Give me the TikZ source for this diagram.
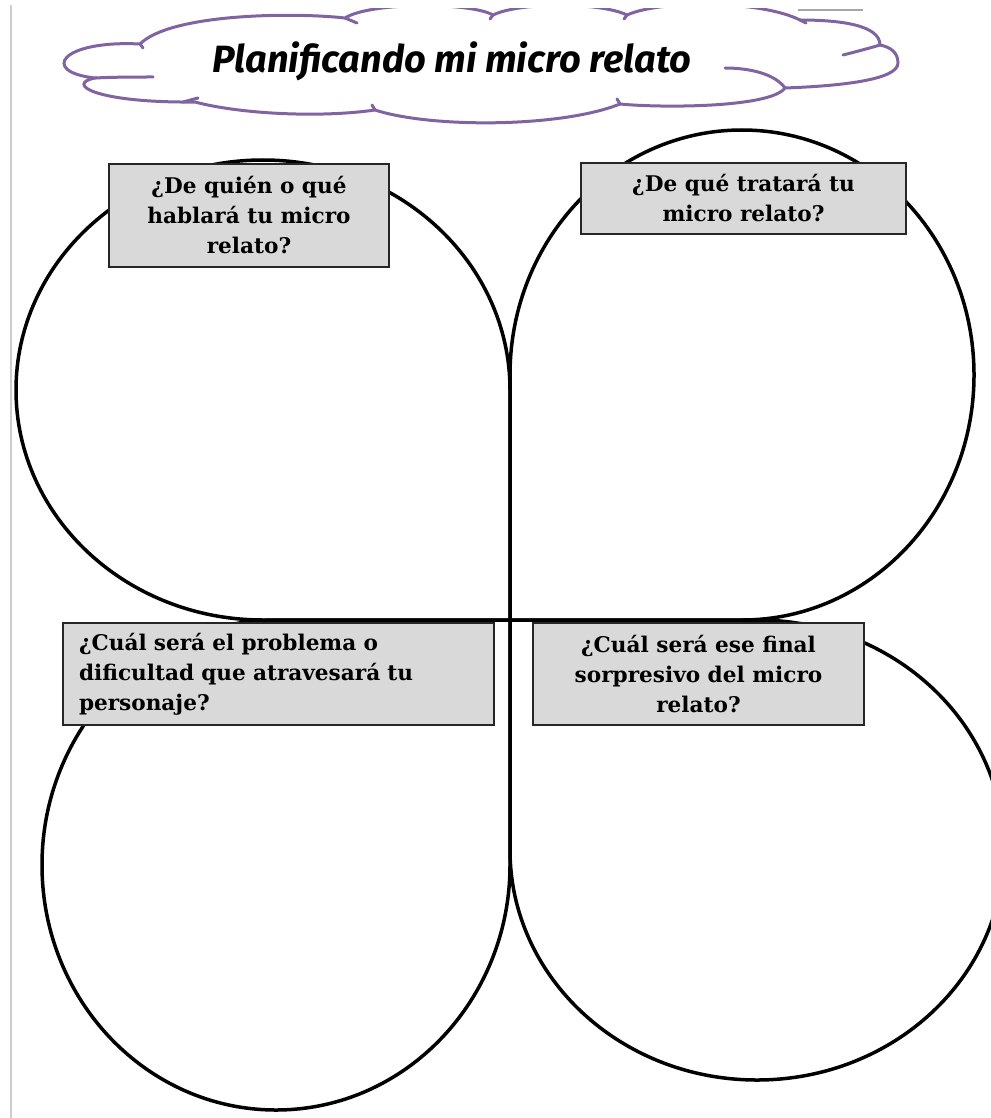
\documentclass[tikz,border=0pt]{standalone}
\usepackage{fontspec}
\newfontfamily\qfont{DejaVu Serif}
\newfontfamily\titlefont{Fira Sans}
\definecolor{cloudpurple}{RGB}{128,100,162}
\definecolor{boxgray}{RGB}{217,217,217}
\definecolor{boxline}{RGB}{38,38,38}
\definecolor{pagegray}{RGB}{205,205,205}
\begin{document}
\begin{tikzpicture}[x=1pt,y=-1pt,
  petal/.style={draw=black,line width=3.5pt},
  qbox/.style={draw=boxline,line width=2pt,fill=boxgray,inner sep=0pt,
    font={\qfont\bfseries\fontsize{21.6}{30}\selectfont},text=black},
  cloudline/.style={draw=cloudpurple,line width=3pt,line cap=round},
  titletext/.style={font={\titlefont\bfseries\itshape\fontsize{38}{44}\selectfont},inner sep=0pt}
]
\useasboundingbox (0,0) rectangle (990,1118);
% page borders
\draw[pagegray,line width=2pt] (11,5) -- (11,1118);
\draw[gray!70,line width=2pt] (798,10) -- (863,10);
% cloud
\begin{scope}
\clip (0,9) rectangle (990,200);
\draw[cloudline,fill=white]
 (140,44) .. controls (60,40) and (40,72) .. (95,78)
 .. controls (65,84) and (95,103) .. (195,102)
 .. controls (240,114) and (320,118) .. (375,110)
 .. controls (430,128) and (560,128) .. (620,104)
 .. controls (660,108) and (770,108) .. (785,88)
 .. controls (840,86) and (898,80) .. (898,63)
 .. controls (898,52) and (890,47) .. (880,45)
 .. controls (880,25) and (840,20) .. (800,20)
 .. controls (760,0) and (660,0) .. (627,15)
 .. controls (600,2) and (520,2) .. (493,15)
 .. controls (470,2) and (370,2) .. (345,18)
 .. controls (290,12) and (170,14) .. (140,44) -- cycle;
\draw[cloudline] (95,78) .. controls (115,77) and (135,77) .. (153,77);
\draw[cloudline] (140,44) -- (143,48);
\draw[cloudline] (183,102) -- (198,98);
\draw[cloudline] (375,110) -- (372,105);
\draw[cloudline] (620,104) -- (617,99);
\draw[cloudline] (785,88) .. controls (775,74) and (750,68) .. (725,68);
\draw[cloudline] (880,45) .. controls (870,48) and (855,52) .. (843,55);
\draw[cloudline] (800,20) -- (806,23);
\draw[cloudline] (627,15) -- (624,19);
\draw[cloudline] (493,15) -- (490,19);
\draw[cloudline] (345,18) -- (357,23);
\end{scope}
\node[titletext,anchor=base] (title) at (452,73) {Planificando mi micro relato};
% petals
\draw[petal] (510,620) -- (263,620) arc[start angle=90,end angle=360,x radius=247,y radius=230] -- cycle;
\draw[petal] (510,620) -- (510,375) arc[start angle=180,end angle=450,x radius=232,y radius=245] -- cycle;
\draw[petal] (510,620) -- (510,865) arc[start angle=0,end angle=270,x radius=234,y radius=245] -- cycle;
\draw[petal] (510,620) -- (757,620) arc[start angle=270,end angle=540,x radius=247,y radius=230] -- cycle;
% question boxes
\node[qbox,anchor=north west,minimum width=280pt,minimum height=103pt,align=center] (q1) at (108,163)
  {¿De quién o qué\\hablará tu micro\\relato?};
\node[qbox,anchor=north west,minimum width=325pt,minimum height=71pt,align=center] (q2) at (580,162)
  {¿De qué tratará tu\\micro relato?};
\node[qbox,anchor=north west,minimum width=431pt,minimum height=102pt,text width=399pt,inner xsep=16pt,align=left] (q3) at (62,622)
  {¿Cuál será el problema o\\dificultad que atravesará tu\\personaje?};
\node[qbox,anchor=north west,minimum width=331pt,minimum height=102pt,align=center] (q4) at (532,622)
  {¿Cuál será ese final\\sorpresivo del micro\\relato?};
\end{tikzpicture}
\end{document}
